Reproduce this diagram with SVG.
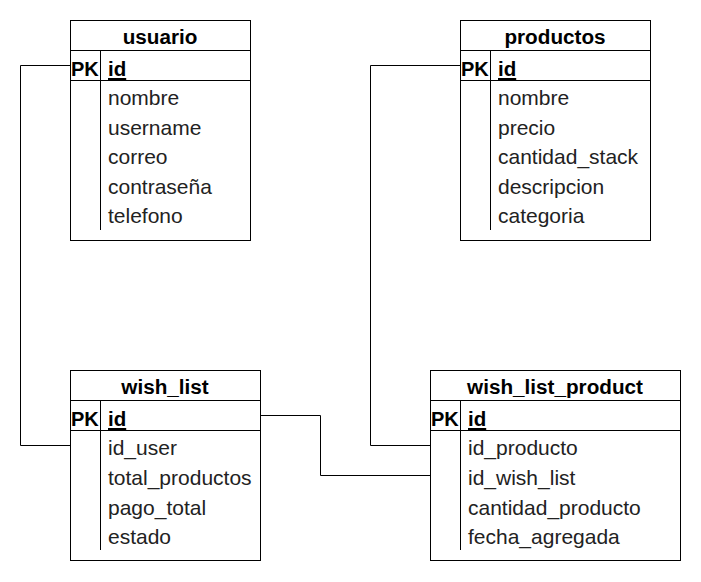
<svg xmlns="http://www.w3.org/2000/svg" width="701" height="582" viewBox="0 0 701 582">
<style>
.box{fill:#fff;stroke:#000;stroke-width:1}
.ln{stroke:#000;stroke-width:1;fill:none}
.t{font-family:"Liberation Sans",Arial,sans-serif;font-size:21px;fill:#000}
.h{font-weight:bold;text-anchor:middle;font-size:20.7px}
.b{font-weight:bold;font-size:20px}
.u{font-weight:bold;text-decoration:underline;font-size:20.5px}
.f{fill:#222}
</style>
<rect width="701" height="582" fill="#fff"/>
<g id="connectors">
<path class="ln" d="M70.5,65.5H20.5V445.5H70.5"/>
<path class="ln" d="M460.5,65.5H370.5V445.5H430.5"/>
<path class="ln" d="M260.5,415.5H320.5V475.5H430.5"/>
</g>
<g id="usuario">
<rect class="box" x="70.5" y="20.5" width="180" height="220"/>
<path class="ln" d="M70.5,50.5H250.5M70.5,80.5H250.5M100.5,50.5V230"/>
<text class="t h" x="160" y="44">usuario</text>
<text class="t b" x="71" y="76">PK</text>
<text class="t u" x="108" y="76">id</text>
<text class="t f" x="108" y="105">nombre</text>
<text class="t f" x="108" y="134.5">username</text>
<text class="t f" x="108" y="164">correo</text>
<text class="t f" x="108" y="193.5">contraseña</text>
<text class="t f" x="108" y="223">telefono</text>
</g>
<g id="productos">
<rect class="box" x="460.5" y="20.5" width="190" height="220"/>
<path class="ln" d="M460.5,50.5H650.5M460.5,80.5H650.5M490.5,50.5V230"/>
<text class="t h" x="555" y="44">productos</text>
<text class="t b" x="461" y="76">PK</text>
<text class="t u" x="498" y="76">id</text>
<text class="t f" x="498" y="105">nombre</text>
<text class="t f" x="498" y="134.5">precio</text>
<text class="t f" x="498" y="164">cantidad_stack</text>
<text class="t f" x="498" y="193.5">descripcion</text>
<text class="t f" x="498" y="223">categoria</text>
</g>
<g id="wish_list">
<rect class="box" x="70.5" y="370.5" width="190" height="190"/>
<path class="ln" d="M70.5,400.5H260.5M70.5,430.5H260.5M100.5,400.5V550"/>
<text class="t h" x="165" y="394">wish_list</text>
<text class="t b" x="71" y="426">PK</text>
<text class="t u" x="108" y="426">id</text>
<text class="t f" x="108" y="455">id_user</text>
<text class="t f" x="108" y="485">total_productos</text>
<text class="t f" x="108" y="515">pago_total</text>
<text class="t f" x="108" y="544">estado</text>
</g>
<g id="wish_list_product">
<rect class="box" x="430.5" y="370.5" width="250" height="190"/>
<path class="ln" d="M430.5,400.5H680.5M430.5,430.5H680.5M460.5,400.5V550"/>
<text class="t h" x="555" y="394">wish_list_product</text>
<text class="t b" x="431" y="426">PK</text>
<text class="t u" x="468" y="426">id</text>
<text class="t f" x="468" y="455">id_producto</text>
<text class="t f" x="468" y="485">id_wish_list</text>
<text class="t f" x="468" y="515">cantidad_producto</text>
<text class="t f" x="468" y="544">fecha_agregada</text>
</g>
</svg>
